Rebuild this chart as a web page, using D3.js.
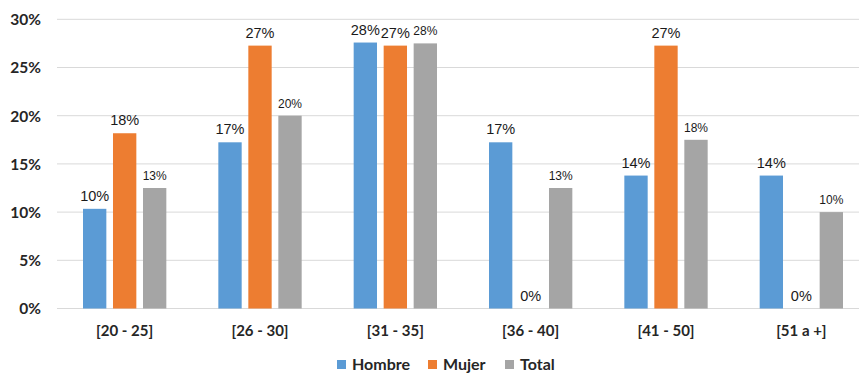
<!DOCTYPE html>
<html>
<head>
<meta charset="utf-8">
<script src="https://cdn.jsdelivr.net/npm/d3@7"></script>
<style>
  html, body { margin: 0; padding: 0; background: #fff; }
  svg { display: block; }
</style>
</head>
<body>
<svg id="chart" width="859" height="374"></svg>
<script>
// Age ranges and the share (%) of each group falling in them
const categories = ["[20 - 25]", "[26 - 30]", "[31 - 35]", "[36 - 40]", "[41 - 50]", "[51 a +]"];
const seriesNames = ["Hombre", "Mujer", "Total"];
const hombre = [10.34, 17.24, 27.59, 17.24, 13.79, 13.79];
const mujer  = [18.18, 27.27, 27.27, 0, 27.27, 0];
const total  = [12.5, 20.0, 27.5, 12.5, 17.5, 10.0];
const yTicks = [0, 5, 10, 15, 20, 25, 30];
const colors = ["#5B9BD5", "#ED7D31", "#A5A5A5"];

const seriesValues = [hombre, mujer, total];

const svg = d3.select("#chart");
const plotLeft = 57, plotRight = 869, plotTop = 19.3, plotBottom = 308.5;

const x0 = d3.scaleBand().domain(categories).range([plotLeft, plotRight]).paddingInner(0).paddingOuter(0);
const x1 = d3.scaleBand().domain(seriesNames).range([26, x0.bandwidth() - 26]).paddingInner(0.222).paddingOuter(0);
const y = d3.scaleLinear().domain([0, 30]).range([plotBottom, plotTop]);

const tickFont = "Lato, 'Open Sans', sans-serif";
const labelFont = "'Liberation Sans', Arial, sans-serif";

// Horizontal gridlines
svg.append("g")
  .selectAll("line")
  .data(yTicks)
  .join("line")
  .attr("x1", plotLeft).attr("x2", 859)
  .attr("y1", d => y(d)).attr("y2", d => y(d))
  .attr("stroke", "#d9d9d9").attr("stroke-width", 1);

// Y axis labels
const yAxis = d3.axisLeft(y).tickValues(yTicks).tickFormat(d => d + "%").tickSize(0).tickPadding(0);
const gy = svg.append("g").attr("transform", "translate(41,0)").call(yAxis);
gy.select(".domain").remove();
gy.selectAll("text")
  .attr("font-family", tickFont).attr("font-weight", "bold")
  .attr("font-size", 15.5).attr("fill", "#262626").attr("dy", "0.35em");

// X axis labels
const xAxis = d3.axisBottom(x0).tickSize(0).tickPadding(0);
const gx = svg.append("g").attr("transform", `translate(0,${plotBottom})`).call(xAxis);
gx.select(".domain").remove();
gx.selectAll("text")
  .attr("font-family", tickFont).attr("font-weight", "bold")
  .attr("font-size", 15).attr("fill", "#262626").attr("dy", null).attr("y", 27);

// Bars and their value labels
const groups = svg.append("g")
  .selectAll("g")
  .data(categories)
  .join("g")
  .attr("transform", d => `translate(${x0(d)},0)`);

groups.each(function(cat, ci) {
  const g = d3.select(this);
  seriesNames.forEach((s, si) => {
    const v = seriesValues[si][ci];
    g.append("rect")
      .attr("x", x1(s)).attr("width", x1.bandwidth())
      .attr("y", y(v)).attr("height", y(0) - y(v))
      .attr("fill", colors[si]);
    g.append("text")
      .attr("x", x1(s) + x1.bandwidth() / 2)
      .attr("y", y(v) - 8)
      .attr("text-anchor", "middle")
      .attr("font-family", labelFont)
      .attr("font-size", si === 2 ? 12 : 14.5)
      .attr("fill", "#1a1a1a")
      .text(Math.round(v) + "%");
  });
});

// Legend
const legendItems = [
  { name: "Hombre", x: 337 },
  { name: "Mujer", x: 428 },
  { name: "Total", x: 505 }
];
const legend = svg.append("g");
legendItems.forEach((item, i) => {
  legend.append("rect")
    .attr("x", item.x).attr("y", 360).attr("width", 9).attr("height", 9)
    .attr("fill", colors[i]);
  legend.append("text")
    .attr("x", item.x + 15).attr("y", 370)
    .attr("font-family", tickFont).attr("font-weight", "bold")
    .attr("font-size", 16).attr("fill", "#262626")
    .text(item.name);
});
</script>
</body>
</html>
